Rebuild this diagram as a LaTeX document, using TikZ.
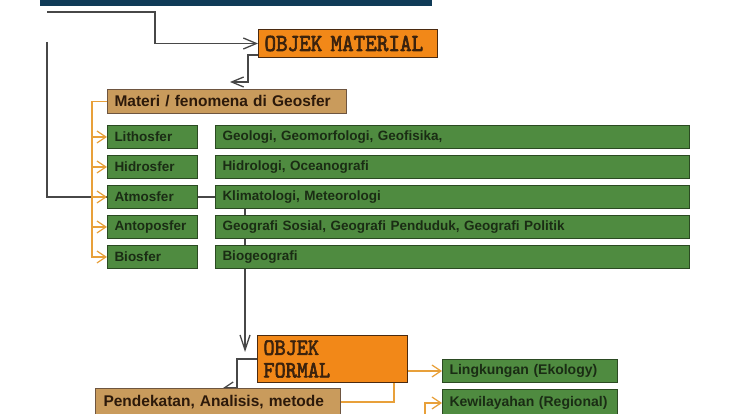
\documentclass[tikz,border=0pt]{standalone}
\usepackage{fontspec}
\usepackage{xcolor}
\usetikzlibrary{arrows.meta,positioning,backgrounds}
\newfontfamily\boxsans{Liberation Sans}
\newfontfamily\objfont[FakeStretch=0.9,FakeBold=2.5]{lmmono10-regular.otf}
\definecolor{navy-bar}{HTML}{0F3B57}
\definecolor{obj-orange}{HTML}{F28818}
\definecolor{obj-brown}{HTML}{4A2A10}
\definecolor{geo-green}{HTML}{4F8B40}
\definecolor{geo-dark}{HTML}{2B4A22}
\definecolor{geo-tan}{HTML}{C99B5C}
\definecolor{line-gold}{HTML}{E8A03A}
\definecolor{line-gray}{HTML}{474747}

\begin{document}
\begin{tikzpicture}[x=1pt, y=-1pt, objek/.style = {draw=obj-brown,
        line width=1pt, fill=obj-orange, anchor=north west, align=left,
        inner xsep=6pt, inner ysep=0pt, text=obj-brown!80!black,
        font=\objfont\fontsize{24.5}{22}\selectfont},
      sphere/.style = {draw=geo-dark, line width=1pt, fill=geo-green,
        text=geo-dark!60!black, inner xsep=7pt, inner ysep=0pt,
        minimum height=23pt, text width=76pt, align=left,
        font=\boxsans\bfseries\fontsize{13.5}{15}\selectfont},
      field/.style = {sphere, text width=460pt},
      tanbox/.style = {sphere, draw=obj-brown!80, fill=geo-tan,
        text=obj-brown!60!black,
        font=\boxsans\bfseries\fontsize{15.5}{17}\selectfont},
      conn/.style={line-gray, line width=1.3pt},
      goldconn/.style={line-gold, line width=1.2pt},
      >={Straight Barb[length=9pt,width=12pt]}]

      \clip (0,0) rectangle (740,414);
      \fill[navy-bar] (40,-5) rectangle (432,6);

      % top: objek material
      \node [objek, minimum width=179pt, text width=167pt, minimum height=28pt] (ObjMat) at (258,29) {OBJEK MATERIAL};
      \node [tanbox, anchor=north west, minimum height=24pt, text width=225pt] (Materi) at (107,89) {Materi / fenomena di Geosfer};

      % geosfer column and fields
      \node [sphere, anchor=north west] (Litho) at (107,125) {Lithosfer};
      \node [sphere] (Hidro) [below=6pt of Litho] {Hidrosfer};
      \node [sphere] (Atmo) [below=6pt of Hidro] {Atmosfer};
      \node [sphere] (Anto) [below=6pt of Atmo] {Antoposfer};
      \node [sphere] (Bio) [below=6pt of Anto] {Biosfer};
      \node [field] (Geol) [right=17pt of Litho] {Geologi, Geomorfologi, Geofisika,};
      \node [field] (Hidrol) [right=17pt of Hidro] {Hidrologi, Oceanografi};
      \node [field] (Klim) [right=17pt of Atmo] {Klimatologi, Meteorologi};
      \node [field] (Geos) [right=17pt of Anto] {Geografi Sosial, Geografi Penduduk, Geografi Politik};
      \node [field] (Biog) [right=17pt of Bio] {Biogeografi};

      % bottom: objek formal
      \node [objek, minimum width=150pt, text width=138pt, minimum height=47pt, font=\objfont\fontsize{23.5}{22.5}\selectfont] (ObjFor) at (257,335) {OBJEK\\FORMAL};
      \node [tanbox, anchor=north west, minimum height=27pt, text width=229pt, inner xsep=8pt] (Pendek) at (95,388) {Pendekatan, Analisis, metode};
      \node [field, anchor=north west, text width=161pt, font=\boxsans\bfseries\fontsize{14}{16}\selectfont] (Lingk) at (442,359) {Lingkungan (Ekology)};
      \node [field, anchor=north west, minimum height=27pt, text width=161pt, font=\boxsans\bfseries\fontsize{14}{16}\selectfont] (Kewil) at (442,389) {Kewilayahan (Regional)};

      \coordinate (topstart) at (47,12);
      \coordinate (leftstart) at (47,42);
      \coordinate (matarrow) at (230,82);
      \coordinate (formtip) at (245,352);
      \coordinate (pdtop) at (237,388);
      \coordinate (kwfoot) at (425,420);

      \begin{scope}[on background layer]
        \draw[conn,-{Straight Barb[length=13pt,width=11pt]}] (topstart) -- ++(108,0) |- (ObjMat.west);
        \draw[conn,-{Straight Barb[length=12pt,width=10pt]}] ([xshift=4pt,yshift=3pt]ObjMat.south west) -- ++(-14,0) |- (matarrow);
        \draw[conn] (leftstart) |- (Atmo.west);
        \draw[conn] (Atmo.east) -- (Klim.west);
        \draw[conn,-{Straight Barb[length=15pt,width=10pt]}] ([xshift=30pt]Klim.south west) -- (formtip);
        \draw[conn,->] (ObjFor.west) -| (pdtop) -- ++(-14,0);
        \draw[goldconn,->] (Materi.west) -- ++(-15,0) |- (Litho.west);
        \foreach \a/\b in {Litho/Hidro,Hidro/Atmo,Atmo/Anto,Anto/Bio}
          \draw[goldconn,->] ([xshift=-15pt]\a.west) |- (\b.west);
        \draw[goldconn,->] (Lingk.west -| ObjFor.east) -- (Lingk.west);
        \draw[goldconn] ([xshift=-14pt]ObjFor.south east) |- (Pendek.east);
        \draw[goldconn,->] (kwfoot) |- (Kewil.west);
      \end{scope}
    \end{tikzpicture}
\end{document}
